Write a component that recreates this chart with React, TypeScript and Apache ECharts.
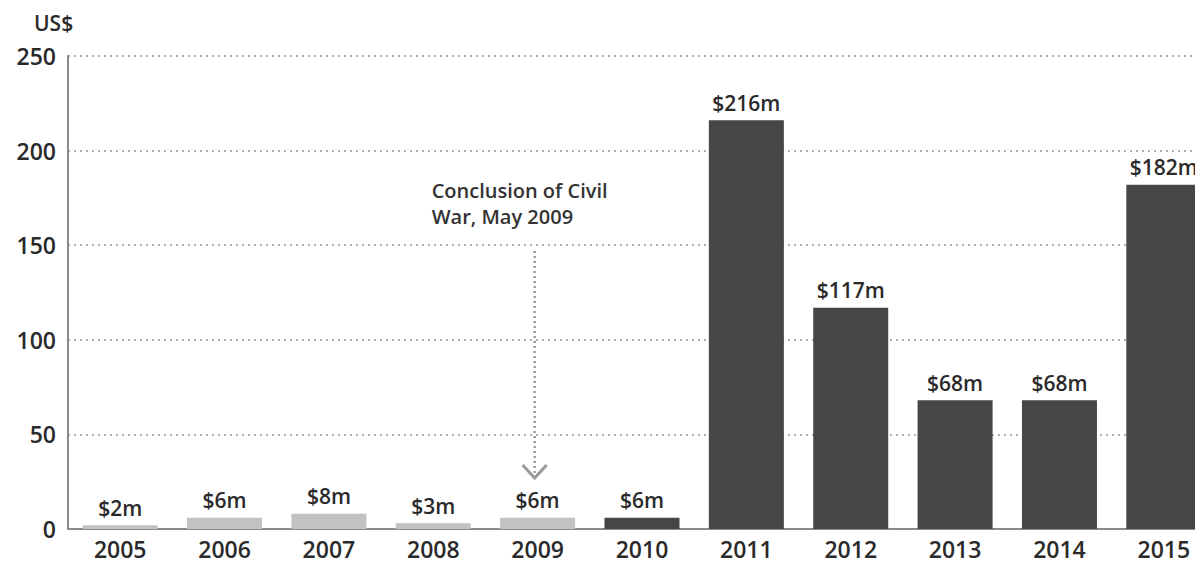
import React, { useEffect, useRef } from "react";
import * as echarts from "echarts";

const years = ["2005", "2006", "2007", "2008", "2009", "2010", "2011", "2012", "2013", "2014", "2015"];
const values = [2, 6, 8, 3, 6, 6, 216, 117, 68, 68, 182];
const barLabels = ["$2m", "$6m", "$8m", "$3m", "$6m", "$6m", "$216m", "$117m", "$68m", "$68m", "$182m"];
const postWar = [false, false, false, false, false, true, true, true, true, true, true];
const yTicks = { min: 0, max: 250, interval: 50 };
const unitLabel = "US$";
const annotationYear = "2009";
const annotationLines = ["Conclusion of Civil", "War, May 2009"];
const arrowFrom = 147;
const arrowTo = 27;

const FONT = "Open Sans";
const LIGHT = "#c2c2c2";
const DARK = "#464646";
const TEXT = "#2a2a2a";

export default function App() {
  const ref = useRef<HTMLDivElement>(null);
  useEffect(() => {
    if (!ref.current) return;
    const chart = echarts.init(ref.current, null, { renderer: "svg" });
    chart.setOption({
      animation: false,
      grid: { left: 68, width: 1148, top: 56, bottom: 38, containLabel: false, outerBoundsMode: "none" },
      xAxis: {
        type: "category",
        data: years,
        axisLine: { show: true, lineStyle: { color: "#8a8a8a", width: 2 } },
        axisTick: { show: false },
        axisLabel: { color: TEXT, fontSize: 23, fontWeight: 600, fontFamily: FONT, margin: 8 },
      },
      yAxis: {
        type: "value",
        min: yTicks.min,
        max: yTicks.max,
        interval: yTicks.interval,
        axisLine: { show: true, lineStyle: { color: "#8a8a8a", width: 2 } },
        axisTick: { show: false },
        axisLabel: { color: TEXT, fontSize: 23, fontWeight: 600, fontFamily: FONT, margin: 12 },
        splitLine: { show: true, lineStyle: { color: "#b0b0b0", width: 2, type: [2, 4] } },
      },
      series: [
        {
          type: "bar",
          barWidth: 75,
          data: values.map((v, i) => ({
            value: v,
            itemStyle: { color: postWar[i] ? DARK : LIGHT },
          })),
          label: {
            show: true,
            position: "top",
            distance: 7,
            color: TEXT,
            fontSize: 21,
            fontWeight: 600,
            fontFamily: FONT,
            formatter: (p: any) => barLabels[p.dataIndex],
          },
        },
      ],
    });

    const top = chart.convertToPixel({ xAxisIndex: 0, yAxisIndex: 0 }, [annotationYear, arrowFrom]) as number[];
    const bot = chart.convertToPixel({ xAxisIndex: 0, yAxisIndex: 0 }, [annotationYear, arrowTo]) as number[];
    const x = top[0] - 3;
    chart.setOption({
      graphic: [
        {
          type: "text",
          left: 34,
          top: 12,
          style: { text: unitLabel, fill: TEXT, fontSize: 21, fontWeight: 600, fontFamily: FONT },
        },
        {
          type: "text",
          left: x - 103,
          top: top[1] - 71,
          style: { text: annotationLines[0], fill: "#333", fontSize: 20, lineHeight: 22, fontWeight: 600, fontFamily: FONT },
        },
        {
          type: "text",
          left: x - 103,
          top: top[1] - 45,
          style: { text: annotationLines[1], fill: "#333", fontSize: 20, lineHeight: 22, fontWeight: 600, fontFamily: FONT },
        },
        {
          type: "line",
          shape: { x1: x, y1: top[1], x2: x, y2: bot[1] },
          style: { stroke: "#999", lineWidth: 2.5, lineDash: [2, 3] },
        },
        {
          type: "polyline",
          shape: { points: [[x - 12, bot[1] - 13], [x, bot[1]], [x + 12, bot[1] - 13]] },
          style: { stroke: "#999", lineWidth: 3, fill: "none" },
        },
      ],
    });
    return () => chart.dispose();
  }, []);
  return (
    <div
      ref={ref}
      style={{ position: "fixed", left: 0, top: 0, width: 1195, height: 567, background: "#fff" }}
    />
  );
}
